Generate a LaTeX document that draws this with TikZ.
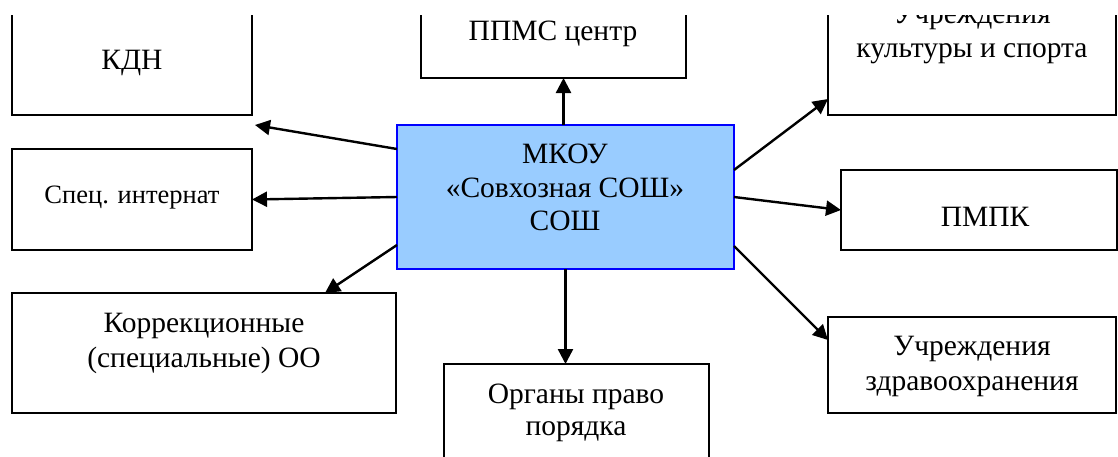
\documentclass[tikz,border=0pt]{standalone}
\usepackage{fontspec}
\setmainfont{Liberation Serif}
\usetikzlibrary{arrows.meta,calc}
\definecolor{mainfill}{RGB}{153,204,255}
\begin{document}
\begin{tikzpicture}[x=1pt,y=-1pt,
  box/.style={draw=black,line width=2.4pt,fill=white,inner sep=0pt,outer sep=0pt,anchor=north west},
  mainbox/.style={draw=blue,line width=2.8pt,fill=mainfill,inner sep=0pt,outer sep=0pt,anchor=north west},
  txt/.style={font=\fontsize{29.5}{34}\selectfont,inner sep=0pt,anchor=base},
  stxt/.style={font=\fontsize{26.5}{32}\selectfont,inner sep=0pt,anchor=base},
  arr/.style={line width=2.4pt,-{Triangle[length=15pt,width=15pt]}}]
\useasboundingbox (0,0) rectangle (1118,456);
\begin{scope}
\clip (0,15) rectangle (1118,456);
% boxes
\node[box,minimum width=240pt,minimum height=135pt] (kdn) at (12,-20) {};
\node[box,minimum width=240pt,minimum height=101pt] (spec) at (12,149) {};
\node[box,minimum width=384pt,minimum height=120pt] (korr) at (12,293) {};
\node[box,minimum width=265pt,minimum height=98pt] (ppms) at (421,-20) {};
\node[box,minimum width=288pt,minimum height=135pt] (kult) at (828,-20) {};
\node[mainbox,minimum width=337pt,minimum height=144pt] (main) at (397,125) {};
\node[box,minimum width=276pt,minimum height=80pt] (pmpk) at (841,170) {};
\node[box,minimum width=288pt,minimum height=96pt] (zdrav) at (828,317) {};
\node[box,minimum width=265pt,minimum height=130pt] (org) at (444,364) {};
% texts
\node[txt] (tkdn) at (132,69) {КДН};
\node[stxt] (tspec) at (132,203) {Спец. интернат};
\node[txt] (tkorr1) at (204,332) {Коррекционные};
\node[txt] (tkorr2) at (204,367) {(специальные) ОО};
\node[txt] (tppms) at (553,40) {ППМС центр};
\node[txt] (tkult1) at (972,23) {Учреждения};
\node[txt] (tkult2) at (972,57) {культуры и спорта};
\node[txt] (tmain1) at (565,163) {МКОУ};
\node[txt] (tmain2) at (565,197) {«Совхозная СОШ»};
\node[txt] (tmain3) at (565,230) {СОШ};
\node[txt] (tpmpk) at (985,226) {ПМПК};
\node[txt] (tzdrav1) at (972,355) {Учреждения};
\node[txt] (tzdrav2) at (972,390) {здравоохранения};
\node[txt] (torg1) at (576,403) {Органы право};
\node[txt] (torg2) at (576,435) {порядка};
% connectors
\draw[arr] ($(main.north)+(-2,0)$) -- ($(main.north |- ppms.south)+(-2,0)$);
\draw[arr] ($(main.north west)+(0,24)$) -- ($(kdn.south east)+(3,10)$);
\draw[arr] (main.west) -- (spec.east);
\draw[arr] ($(main.south west)+(0,-24)$) -- ($(korr.north east)+(-71,0)$);
\draw[arr] (main.south) -- (main.south |- org.north);
\draw[arr] ($(main.north east)+(0,45)$) -- ($(kult.south west)+(0,-16)$);
\draw[arr] (main.east) -- (pmpk.west);
\draw[arr] ($(main.south east)+(0,-23)$) -- ($(zdrav.west)+(0,-25)$);
\end{scope}
\end{tikzpicture}
\end{document}
